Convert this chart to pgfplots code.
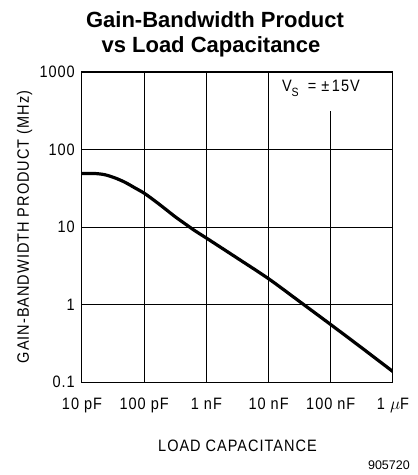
\documentclass[border=0pt]{standalone}
\usepackage{fontspec}
\setmainfont{Liberation Sans}
\newfontfamily\pf{Liberation Sans}[LetterSpace=6, FakeStretch=0.88]
\usepackage{pgfplots}
\pgfplotsset{compat=1.18}
\newcommand\pfs{\pf\fontsize{16.5bp}{19bp}\selectfont}
\begin{document}
\begin{tikzpicture}
\useasboundingbox (0,0) rectangle (418bp,475bp);
\begin{axis}[
  at={(82bp,93bp)}, anchor=south west,
  scale only axis, width=311bp, height=310bp,
  xmode=log, ymode=log,
  xmin=1e-11, xmax=1e-6, ymin=0.1, ymax=1000,
  xtick={1e-11,1e-10,1e-9,1e-8,1e-7,1e-6},
  xticklabels={10 pF,100 pF,1 nF,10 nF,100 nF,1 $\mu$F},
  ytick={0.1,1,10,100,1000},
  yticklabels={0.1,1,10,100,1000},
  tick style={draw=none},
  minor tick num=0,
  ymajorgrids=true, xmajorgrids=false,
  major grid style={black, line width=0.7bp},
  axis line style={black, line width=1bp},
  xticklabel style={font=\pfs, anchor=base, yshift=-27bp, inner sep=0pt},
  yticklabel style={font=\pfs, anchor=east, xshift=-7bp, inner sep=0pt},
  xlabel={LOAD CAPACITANCE},
  ylabel={GAIN-BANDWIDTH PRODUCT (MHz)},
  xlabel style={font=\pfs, at={(axis description cs:0.5,-0.2258)}, anchor=base, inner sep=0pt},
  ylabel style={font=\pfs, at={(axis description cs:-0.1704,0.5)}, anchor=base, inner sep=0pt, rotate=0},
]
\draw[black, line width=0.7bp] (axis cs:1e-10,0.1) -- (axis cs:1e-10,1000);
\draw[black, line width=0.7bp] (axis cs:1e-9,0.1) -- (axis cs:1e-9,1000);
\draw[black, line width=0.7bp] (axis cs:1e-8,0.1) -- (axis cs:1e-8,1000);
\draw[black, line width=0.7bp] (axis cs:1e-7,0.1) -- (axis cs:1e-7,314);
\addplot[black, line width=3.2bp, smooth] coordinates {
  (1e-11,49) (1.622e-11,49) (2.344e-11,47.2) (3.388e-11,43) (4.898e-11,37.8)
  (7.079e-11,32) (1e-10,27.3) (1.496e-10,21.6) (2.163e-10,17.2)
  (3.133e-10,13.6) (4.539e-10,11.0) (6.607e-10,8.9) (1e-9,7.2)
  (3.162e-9,3.95) (1e-8,2.15) (3.162e-8,1.09) (1e-7,0.55) (3.162e-7,0.275) (1e-6,0.136)
};
\node[anchor=base west, inner sep=0pt, font=\pfs] at (axis cs:1.633e-8,557)
  {V\raisebox{-5bp}{\fontsize{12bp}{14bp}\selectfont S}\hspace{9bp}= ±\,15V};
\end{axis}
\node[anchor=base, inner sep=0pt, font=\bfseries\fontsize{22bp}{26bp}\selectfont] at (215bp,447bp) {Gain-Bandwidth Product};
\node[anchor=base, inner sep=0pt, font=\bfseries\fontsize{22bp}{26bp}\selectfont] at (211bp,422bp) {vs Load Capacitance};
\node[anchor=base east, inner sep=0pt, font=\fontsize{12.5bp}{14bp}\selectfont] at (410bp,6bp) {905720};
\end{tikzpicture}
\end{document}
